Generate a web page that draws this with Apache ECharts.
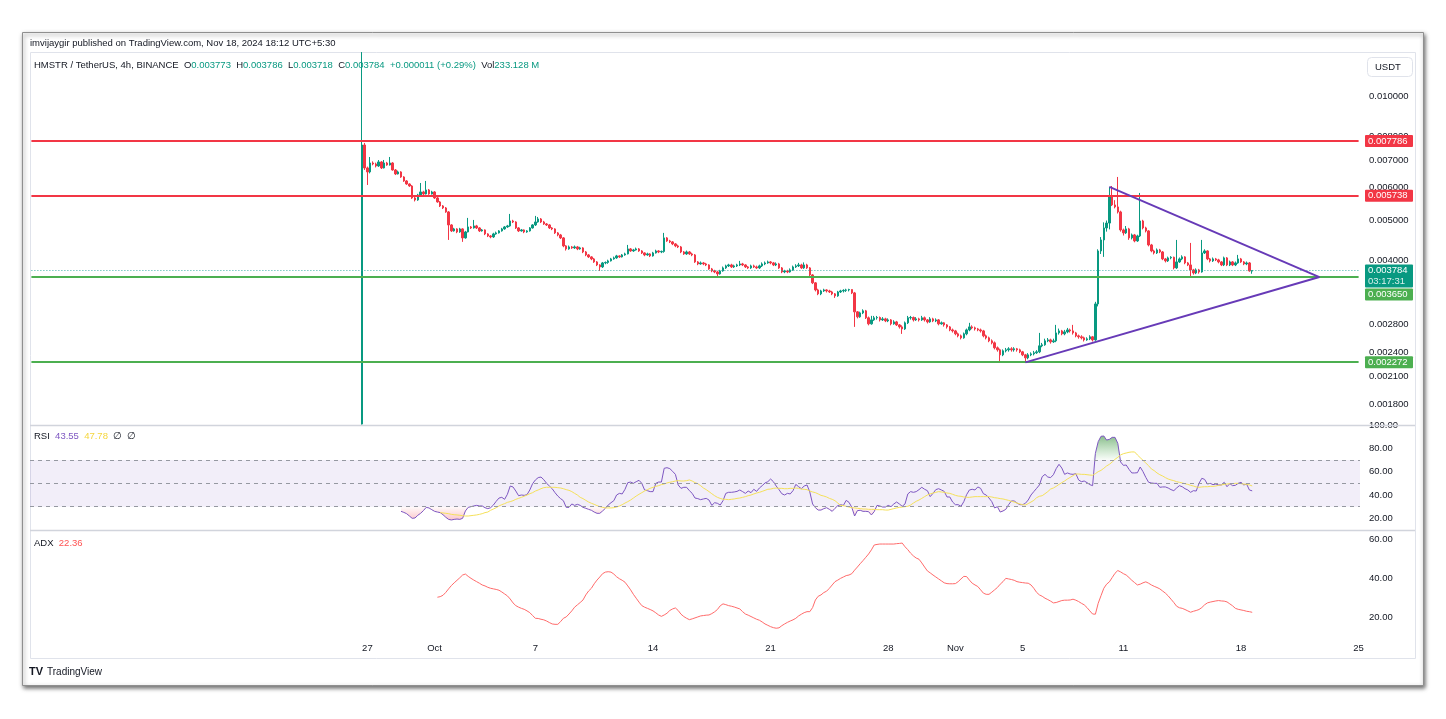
<!DOCTYPE html>
<html>
<head>
<meta charset="utf-8">
<title>HMSTR / TetherUS 4h</title>
<script src="https://cdn.jsdelivr.net/npm/echarts@6/dist/echarts.min.js"></script>
<style>
  html, body { margin: 0; padding: 0; background: #fff; }
  #chart { width: 1446px; height: 719px; }
</style>
</head>
<body>
<div id="chart"></div>
<script>
// 4h candles, prices in millionths of USDT (3784 = 0.003784)
// slots are 4h steps counted from 7 Sep 00:00, first candle is 26 Sep 16:00
// (first candle runs off both ends of the pane, so its open/low/high are the pane edges)
var firstBar = 118;
var open = [
  1610,7613,6700,6553,6888,6850,6774,6927,6700,6888,
  6812,6888,6625,6480,6553,6372,6232,6128,6060,5670,
  5607,5765,5862,5797,5927,5797,5862,5670,5545,5423,
  5363,5245,4879,4719,4772,4692,4772,4539,4692,4825,
  4798,4852,4798,4719,4745,4641,4589,4564,4641,4667,
  4719,4772,4825,4852,4988,4960,4798,4719,4745,4692,
  4719,4798,4879,4960,5044,4960,4906,4879,4798,4772,
  4667,4615,4539,4341,4269,4317,4293,4317,4269,4293,
  4198,4129,4084,4038,3971,3905,3862,3949,3960,3994,
  4038,4061,4106,4084,4129,4152,4269,4221,4245,4269,
  4221,4175,4129,4152,4106,4175,4221,4198,4210,4539,
  4463,4439,4390,4341,4317,4198,4152,4198,4152,4129,
  3971,3927,3949,3927,3905,3819,3777,3756,3715,3777,
  3841,3884,3905,3862,3884,3905,3927,3905,3862,3841,
  3884,3862,3841,3884,3927,3949,3971,3949,3905,3927,
  3841,3756,3777,3756,3798,3862,3884,3905,3841,3905,
  3841,3694,3534,3398,3324,3379,3398,3379,3360,3324,
  3287,3360,3379,3390,3398,3405,3342,3007,2925,2990,
  3024,2909,2813,2876,2909,2915,2876,2892,2860,2876,
  2813,2844,2797,2766,2735,2829,2909,2915,2876,2892,
  2876,2909,2876,2844,2892,2860,2876,2813,2829,2797,
  2766,2720,2705,2661,2631,2602,2661,2720,2766,2751,
  2735,2720,2705,2631,2602,2559,2531,2462,2434,2367,
  2421,2434,2448,2434,2448,2434,2407,2367,2328,2367,
  2380,2394,2407,2489,2503,2559,2573,2545,2559,2675,
  2705,2661,2690,2720,2705,2675,2631,2617,2602,2573,
  2588,2617,2573,3143,4221,4488,4798,4930,5733,5453,
  5393,5245,4745,4667,4772,4539,4615,4463,4589,4988,
  4798,4719,4365,4221,4175,4245,4198,4038,3994,4061,
  4075,3841,3971,4038,4084,3949,3905,3798,3735,3798,
  3756,4175,4221,4038,3994,4038,4016,3971,3905,4061,
  3905,3971,3905,3949,4038,3971,3927,3949,3773
];
var high = [
  12770,7700,6750,7120,6950,6900,7000,6960,7004,6930,
  7122,6920,6660,6600,6580,6400,6260,6150,6090,5700,
  5800,6162,5900,6232,5960,5900,5890,5700,5570,5450,
  5390,5270,4900,4800,4790,4800,4790,4720,5073,4850,
  5016,4880,4820,4770,4760,4660,4610,4670,4700,4740,
  4800,4850,4880,5187,5020,4980,4820,4770,4760,4740,
  4820,4900,5130,5100,5070,4990,4930,4900,4820,4790,
  4690,4640,4560,4360,4350,4340,4350,4340,4320,4310,
  4220,4150,4100,4060,3990,3920,3970,3980,4020,4060,
  4090,4130,4120,4150,4180,4365,4290,4270,4300,4290,
  4240,4190,4180,4170,4200,4250,4240,4230,4667,4560,
  4490,4460,4410,4370,4340,4220,4230,4220,4180,4150,
  3990,3980,3970,3950,3920,3840,3800,3780,3800,3870,
  3910,3930,3930,3910,3930,3994,3950,3920,3880,3910,
  3910,3890,3910,3960,3980,4000,3990,3970,3960,3950,
  3860,3800,3800,3830,3890,3920,3950,3930,3960,3930,
  3860,3710,3550,3420,3400,3420,3410,3400,3380,3340,
  3380,3400,3410,3420,3420,3410,3360,3020,3010,3050,
  3040,2930,2941,2940,2940,2930,2920,2910,2900,2890,
  2870,2860,2810,2790,2850,2940,2940,2930,2920,2910,
  2941,2930,2890,2920,2910,2900,2890,2850,2840,2810,
  2780,2740,2720,2680,2650,2680,2740,2829,2790,2770,
  2750,2740,2720,2650,2620,2580,2550,2480,2450,2440,
  2460,2470,2470,2470,2460,2450,2420,2380,2390,2400,
  2420,2430,2675,2530,2590,2600,2590,2590,2797,2740,
  2720,2720,2750,2740,2797,2690,2650,2640,2620,2610,
  2640,2630,3180,4260,4560,4950,5000,6032,6060,5600,
  6372,5280,4780,4850,4800,4650,4640,4620,5829,5020,
  4830,4740,4390,4250,4280,4270,4220,4060,4090,4100,
  4090,4488,4070,4120,4100,3970,4414,3820,3830,3820,
  4488,4260,4240,4060,4070,4060,4040,3990,4090,4080,
  4000,3990,3980,4129,4060,3990,3980,3970,3786
];
var low = [
  1605,6625,6094,6500,6800,6720,6740,6660,6680,6780,
  6790,6600,6440,6460,6340,6200,6100,6030,5640,5560,
  5580,5740,5760,5780,5770,5780,5640,5520,5390,5330,
  5220,4488,4690,4700,4660,4670,4440,4520,4680,4770,
  4780,4770,4690,4700,4610,4560,4530,4540,4620,4650,
  4700,4750,4800,4830,4930,4770,4690,4700,4660,4670,
  4700,4780,4850,4940,4930,4880,4850,4770,4740,4640,
  4580,4510,4310,4230,4250,4270,4270,4240,4250,4170,
  4100,4060,4010,3950,3880,3777,3840,3920,3930,3980,
  4020,4040,4060,4070,4110,4140,4200,4200,4230,4200,
  4150,4100,4110,4080,4090,4160,4170,4170,4180,4440,
  4410,4360,4310,4290,4170,4130,4130,4130,4100,3950,
  3900,3910,3900,3880,3800,3750,3730,3654,3700,3760,
  3820,3860,3840,3840,3860,3880,3880,3840,3820,3820,
  3840,3820,3820,3860,3900,3930,3920,3880,3880,3820,
  3730,3730,3730,3740,3780,3840,3860,3820,3820,3820,
  3670,3510,3370,3300,3300,3360,3350,3340,3300,3250,
  3270,3340,3350,3360,3370,3320,2766,2900,2910,2970,
  2890,2790,2800,2860,2880,2850,2860,2840,2840,2790,
  2800,2780,2740,2660,2720,2810,2880,2850,2860,2850,
  2860,2850,2820,2830,2840,2840,2790,2800,2770,2740,
  2700,2680,2640,2610,2580,2590,2640,2700,2730,2710,
  2700,2680,2610,2580,2540,2510,2440,2410,2264,2350,
  2400,2410,2410,2410,2410,2390,2350,2277,2310,2350,
  2360,2380,2390,2470,2490,2540,2520,2530,2540,2650,
  2640,2640,2670,2680,2650,2610,2590,2580,2550,2560,
  2570,2550,2560,3100,4150,4084,4700,4760,5420,5350,
  5200,4700,4600,4640,4490,4500,4430,4440,4560,4760,
  4680,4330,4190,4140,4150,4170,4010,3960,3970,4030,
  3810,3820,3950,4010,3920,3880,3634,3700,3710,3720,
  3740,4150,4010,3960,3970,3990,3940,3880,3880,3880,
  3880,3880,3880,3930,3950,3900,3900,3760,3718
];
var close = [
  7613,6700,6553,6888,6850,6774,6927,6700,6888,6812,
  6888,6625,6480,6553,6372,6232,6128,6060,5670,5607,
  5765,5862,5797,5927,5797,5862,5670,5545,5423,5363,
  5245,4879,4719,4772,4692,4772,4539,4692,4825,4798,
  4852,4798,4719,4745,4641,4589,4564,4641,4667,4719,
  4772,4825,4852,4988,4960,4798,4719,4745,4692,4719,
  4798,4879,4960,5044,4960,4906,4879,4798,4772,4667,
  4615,4539,4341,4269,4317,4293,4317,4269,4293,4198,
  4129,4084,4038,3971,3905,3862,3949,3960,3994,4038,
  4061,4106,4084,4129,4152,4269,4221,4245,4269,4221,
  4175,4129,4152,4106,4175,4221,4198,4210,4539,4463,
  4439,4390,4341,4317,4198,4152,4198,4152,4129,3971,
  3927,3949,3927,3905,3819,3777,3756,3715,3777,3841,
  3884,3905,3862,3884,3905,3927,3905,3862,3841,3884,
  3862,3841,3884,3927,3949,3971,3949,3905,3927,3841,
  3756,3777,3756,3798,3862,3884,3905,3841,3905,3841,
  3694,3534,3398,3324,3379,3398,3379,3360,3324,3287,
  3360,3379,3390,3398,3405,3342,3007,2925,2990,3024,
  2909,2813,2876,2909,2915,2876,2892,2860,2876,2813,
  2844,2797,2766,2735,2829,2909,2915,2876,2892,2876,
  2909,2876,2844,2892,2860,2876,2813,2829,2797,2766,
  2720,2705,2661,2631,2602,2661,2720,2766,2751,2735,
  2720,2705,2631,2602,2559,2531,2462,2434,2367,2421,
  2434,2448,2434,2448,2434,2407,2367,2328,2367,2380,
  2394,2407,2489,2503,2559,2573,2545,2559,2675,2705,
  2661,2690,2720,2705,2675,2631,2617,2602,2573,2588,
  2617,2573,3143,4221,4488,4798,4930,5733,5453,5393,
  5245,4745,4667,4772,4539,4615,4463,4589,4988,4798,
  4719,4365,4221,4175,4245,4198,4038,3994,4061,4075,
  3841,3971,4038,4084,3949,3905,3798,3735,3798,3756,
  4175,4221,4038,3994,4038,4016,3971,3905,4061,3905,
  3971,3905,3949,4038,3971,3927,3949,3777,3784
];

// RSI(14) and its 14-bar MA, ADX
var rsiStart = 132;
var rsi = [
  26,25.1,24,22,20,20.3,22.6,24.3,26.6,29.4,
  28.9,27.4,26,25.4,24.9,23.1,20.9,19.1,18.6,19.1,
  19.4,19.1,20,26.3,29.4,30,30.6,31.1,30.6,30.6,
  29.1,28.3,29.1,31.4,34.6,37.4,38,36.3,40.6,47.7,
  46.9,43.4,39.4,40,39.7,40.3,44.3,49.7,52.9,54.9,
  55.4,53.1,50,47.7,45.4,42,39.1,36.9,35.1,29.4,
  29.4,32.3,31.1,32,31.1,29.4,28.6,27.7,26.9,25.4,
  24.3,24.3,26.3,28.6,31.4,33.4,35.1,40,41.4,40.9,
  44.9,50.6,51.1,50,51.4,52.6,50,44.3,43.7,42.9,
  42.9,50,51.1,51.1,62.9,63.4,62.6,60.3,57.7,48.6,
  45.7,46.6,46.6,43.7,41.4,37.4,36.9,36,36.6,37.1,
  35.7,31.1,33.4,32.9,31.4,35.1,41.4,42.3,42.3,42.6,
  43.1,44.3,42.9,41.4,43.4,42,44.9,43.1,46,48,
  50.3,51.4,53.7,51.4,47.7,44.6,41.1,40,41.4,40.9,
  43.7,49.1,47.1,45.4,47.7,48.6,42.6,32.3,29.1,27.1,
  27.1,28.3,29.1,27.7,26,28.6,30.9,31.7,31.1,35.4,
  33.7,29.4,22,26.6,26.9,26,26,25.7,22.9,25.7,
  31.1,30.6,29.7,29.7,31.1,30,32.3,34,32.3,30.3,
  32.3,40.9,42.9,42.3,42.9,44.6,46.6,44.9,43.7,38.6,
  41.4,44.6,45.4,44.3,43.1,38.3,38.3,34,31.7,31.7,
  30.3,34.3,40.3,44.3,44.9,44.3,46.9,45.7,41.1,40,
  37.4,34.3,28.9,30,25.4,26.3,27.7,31.7,34.9,34.9,
  33.1,31.7,31.7,32.9,35.7,40,42.9,45.7,48.6,55.7,
  57.7,55.4,54.9,57.4,62.6,66.3,63.1,57.7,58.9,58,
  57.7,58.3,52.9,51.4,52,50.6,48.9,48,75.7,85.7,
  90.3,90.6,87.1,87.7,89.4,89.4,84.3,68.3,65.4,65.7,
  62,58.9,58.9,59.1,64,60,55.1,50.9,50.3,50,
  50,46.6,46.9,46.9,46,44.6,43.7,46,48,47.1,
  45.4,44.3,42.3,43.7,43.4,50,54.3,53.4,49.4,50,
  48.9,49.4,48.6,48.6,50.9,47.1,49.7,48,48.3,50,
  50.9,48.6,49.4,44.3,43.55
];
var rsiMaStart = 146;
var rsiMa = [
  24.9,24.6,24.3,24,23.4,23.1,22.9,22.6,22.3,22,
  22,22.3,22.6,22.9,23.4,24,24.9,25.4,26.9,28,
  29.1,30.6,31.7,32.6,33.7,34.3,35.1,36.3,37.1,38,
  38.9,40,41.1,42,43.4,44.3,45.4,46.3,46.6,46.6,
  46.6,46.6,46.3,46,45.4,44.6,44,42.9,41.4,40,
  38,36.9,35.4,34,32.9,32,30.9,30,29.4,28.9,
  28.9,28.9,29.1,29.7,30.6,31.7,33.1,34.3,35.7,37.4,
  39.1,40.6,42,43.4,44.6,45.7,46.6,47.4,48,48.9,
  49.4,50.3,50.9,51.4,52,52.3,52,52,52.3,52.9,
  52,50.6,49.7,48,46,44.6,42.9,41.1,39.4,38,
  37.1,36.3,36.3,36,36.3,36.6,37.1,37.4,38,38.6,
  39.4,40,40.9,41.7,42.3,43.1,44,44.9,45.1,45.7,
  46,45.7,45.7,45.4,45.4,45.7,45.7,46,45.7,45.1,
  44.9,44.6,43.4,42.6,42,40.9,39.7,39.1,38.3,37.1,
  36.3,35.1,33.1,31.1,30.9,30.3,29.7,29.1,28.9,28.6,
  28.3,28,28,27.7,27.7,27.7,27.4,27.4,27.4,27.1,
  27.1,27.7,28.3,28.9,29.4,29.7,30,30.3,31.4,33.1,
  34.6,35.7,37.1,38.6,40,40.9,41.7,42.3,42.9,42.6,
  42.3,41.7,41.4,40.6,39.7,39.1,38.9,38.3,38,38,
  38.3,38.6,38.6,38.6,38.6,38.6,38.6,38.3,37.7,37.4,
  36.9,36.6,36,35.4,34.6,34,33.1,32.3,31.7,31.4,
  32.6,34,35.4,37.7,38.9,39.4,41.1,42.9,45.1,46,
  47.4,49.1,50.6,52,53.7,55.1,56.6,58,58,57.7,
  57.7,57.4,57.1,56.9,58.3,60,61.1,62.9,64.9,66.3,
  68.3,70.6,72.3,74.3,75.4,76,76.6,76.9,76.9,74.3,
  72,69.7,67.4,65.1,62.3,60.9,58.9,57.4,56.3,54.9,
  53.7,52.9,52.3,51.4,50.9,50.3,49.7,49.1,48.3,47.7,
  46.9,46.6,46.9,47.1,47.1,47.4,47.4,47.7,48.3,48.6,
  49.1,49.4,49.7,49.7,50,50,49.7,49.4,49.1,48.6,
  47.78
];
var adxStart = 145;
var adx = [
  30.1,30.4,31.1,32.6,34.4,36.1,37.5,38.8,40.1,41.5,
  42,40.8,39.8,38.9,38.1,37.3,36.4,35.9,35.2,34.7,
  34.4,34.1,33.7,32.8,31.8,30.8,29.2,27.2,25.8,25,
  24.4,23.9,23.1,22.2,20.7,19.3,19.2,18.8,18.5,17.9,
  17.1,16.4,16.2,16.2,17.6,19.3,20,21.5,23.1,25,
  26.2,27.4,28.7,31.3,33.3,34.7,37,38.9,40.5,42.2,
  43,43.2,43,42,40.6,39.6,38.8,37.8,35.9,33.9,
  31.6,29.6,27.6,25.8,25,24.4,23.8,23.1,22.1,21,
  20.3,21,21.9,23.3,24.1,24.6,23.3,21.4,20.2,19.3,
  18.6,19,19.5,20,20.5,20.7,20.9,21,21.7,22.6,
  23.8,25.7,26.7,26.3,25.8,25.5,25.1,24.6,24.1,22.7,
  21.5,20.9,20.2,19.5,18.8,18.3,17.4,16.4,15.7,15,
  14.5,14.2,14.4,15.5,16.4,17.2,17.9,18.5,19.3,20.5,
  21.4,22.2,22.7,22.7,24.8,28.7,30.6,31.3,32.5,33.2,
  34.7,36.4,38.1,38.9,39.8,40.5,41.2,41.5,42.2,44,
  45.6,47.3,48.9,50.6,52.3,54.4,56.9,57.2,57.4,57.4,
  57.4,57.4,57.4,57.4,57.6,57.7,57.9,56,54.5,52.7,
  51.3,50.2,49.6,47.7,45.6,43.6,42.6,41.5,40.5,39.5,
  38.5,37.5,37.1,37,37,37.1,38.1,39.5,40.8,40.7,
  38.9,37.3,36.4,35.6,33.9,32.2,31.6,31.6,32.7,33.9,
  35.1,36.8,38.1,39.8,39.5,39.2,38.8,38.1,37.8,37.6,
  37.4,37.3,36.4,34.7,32.6,31.3,30.6,29.6,28.9,28.1,
  27.2,27.4,27.9,28.4,28.6,28.6,28.7,29.1,28.6,27.9,
  27,26.2,24.8,23.1,21.5,21.4,27,30.9,34.7,36.8,
  38,40.2,42.4,43.8,43.1,42.2,41.5,40.2,38.8,37.6,
  36.4,36.8,37.5,38,37.3,36.4,35.7,35.1,34.4,33.3,
  32.2,30.8,29.1,27.4,25.5,24.7,24.4,23.8,23.1,22.4,
  22.9,23.3,23.8,24.8,26.2,27.2,27.6,27.9,28.2,28.4,
  28.2,28.1,27.7,26.7,25.7,24.4,23.9,23.6,23.3,22.9,
  22.7,22.36
];

// drawn levels and the triangle ([slot, price])
var redLevels = [0.007786, 0.005738];
var greenLevels = [0.003650, 0.002272];
var lastPrice = 0.003784;
var triUpper = [[385, 0.00603], [460, 0.00365]];
var triLower = [[355, 0.00227], [460, 0.00365]];

// axis ticks
var priceTicks = [0.010, 0.008, 0.007, 0.006, 0.005, 0.004, 0.0028, 0.0024, 0.0021, 0.0018];
var rsiTicks = [20, 40, 60, 80, 100];
var adxTicks = [20, 40, 60];
var dayTicks = ['2024-09-27', '2024-10-01', '2024-10-07', '2024-10-14', '2024-10-21', '2024-10-28',
  '2024-11-01', '2024-11-05', '2024-11-11', '2024-11-18', '2024-11-25'];
var dayTickText = ['27', 'Oct', '7', '14', '21', '28', 'Nov', '5', '11', '18', '25'];

var FONT = '"Liberation Sans", Arial, sans-serif';
var UP = '#089981', DOWN = '#f23645';

var slots = [];
var t0 = Date.UTC(2024, 8, 7);
for (var i = 0; i < 475; i++) {
  var s = new Date(t0 + i * 4 * 3600 * 1000).toISOString();
  slots.push(s.slice(0, 10) + ' ' + s.slice(11, 16));
}
var lastSlot = slots.length - 1;

var candles = open.map(function (o, k) {
  return [firstBar + k, o / 1e6, close[k] / 1e6, low[k] / 1e6, high[k] / 1e6];
});
function pts(arr, start, fn) {
  return arr.map(function (v, k) { return [start + k, fn ? fn(v) : v]; });
}

var chart = echarts.init(document.getElementById('chart'));

function xAx(g) {
  return {
    type: 'category', gridIndex: g, data: slots, boundaryGap: true,
    axisLine: { show: false }, axisTick: { show: false }, splitLine: { show: false },
    axisLabel: {
      show: g === 2, color: '#131722', fontSize: 9.5, fontFamily: FONT, margin: 6,
      interval: function (idx, val) { return val.slice(11) === '00:00' && dayTicks.indexOf(val.slice(0, 10)) >= 0; },
      formatter: function (val) { var k = dayTicks.indexOf(val.slice(0, 10)); return k >= 0 ? dayTickText[k] : ''; }
    }
  };
}
function yAx(g, extra) {
  var a = {
    gridIndex: g, position: 'right',
    axisLine: { show: false }, axisTick: { show: false }, splitLine: { show: false },
    axisLabel: { color: '#131722', fontSize: 9.5, fontFamily: FONT, margin: 9 }
  };
  for (var k in extra) {
    if (k === 'axisLabel') { for (var j in extra[k]) a.axisLabel[j] = extra[k][j]; }
    else a[k] = extra[k];
  }
  return a;
}

// horizontal levels as coord pairs across the whole pane (yAxis-only lines misplace on a log axis)
function hLine(v, style) {
  return [{ coord: [0, v], lineStyle: style }, { coord: [lastSlot, v] }];
}
var levelLines = [];
redLevels.forEach(function (v) { levelLines.push(hLine(v, { color: '#f23645', width: 2, type: 'solid' })); });
greenLevels.forEach(function (v) { levelLines.push(hLine(v, { color: '#4caf50', width: 2, type: 'solid' })); });
levelLines.push(hLine(lastPrice, { color: '#26a69a', width: 1, type: [1, 2], opacity: 0.9 }));
[triUpper, triLower].forEach(function (seg) {
  levelLines.push([
    { coord: seg[0], lineStyle: { color: '#673ab7', width: 2, type: 'solid' } },
    { coord: seg[1] }
  ]);
});

var frame = [
  { type: 'rect', z: -10, shape: { x: 22.5, y: 32.5, width: 1401, height: 653 },
    style: { fill: '#fff', stroke: '#8f8f8f', lineWidth: 1, shadowBlur: 4, shadowOffsetX: 1, shadowOffsetY: 2, shadowColor: 'rgba(0,0,0,0.55)' } },
  { type: 'rect', z: -9, shape: { x: 30.5, y: 52.5, width: 1385, height: 606 },
    style: { fill: 'none', stroke: '#e0e3eb', lineWidth: 1 } },
  { type: 'line', z: 50, shape: { x1: 30, y1: 425.5, x2: 1415, y2: 425.5 }, style: { stroke: '#d1d4dc', lineWidth: 1.5 } },
  { type: 'line', z: 50, shape: { x1: 30, y1: 530.5, x2: 1415, y2: 530.5 }, style: { stroke: '#d1d4dc', lineWidth: 1.5 } },
  { type: 'rect', z: 50, shape: { x: 1367.5, y: 57.5, width: 45, height: 19, r: 4 },
    style: { fill: '#fff', stroke: '#e0e3eb', lineWidth: 1 } },
  { type: 'text', z: 51, x: 1375, y: 67, style: { text: 'USDT', fill: '#131722', fontSize: 9.5, fontFamily: FONT, verticalAlign: 'middle' } },
  { type: 'text', z: 51, x: 29, y: 672, style: { text: 'TV', fill: '#131722', fontSize: 11, fontWeight: 'bold', fontFamily: FONT, verticalAlign: 'middle' } },
  { type: 'text', z: 51, x: 47, y: 672, style: { text: 'TradingView', fill: '#131722', fontSize: 10, fontFamily: FONT, verticalAlign: 'middle' } }
];

var option = {
  animation: false,
  backgroundColor: '#ffffff',
  textStyle: { fontFamily: FONT },
  title: [
    { text: 'imvijaygir published on TradingView.com, Nov 18, 2024 18:12 UTC+5:30', left: 30, top: 38, padding: 0,
      textStyle: { fontSize: 9.5, fontWeight: 'normal', color: '#131722', fontFamily: FONT } },
    { text: '{d|HMSTR / TetherUS, 4h, BINANCE}  {d|O}{u|0.003773}  {d|H}{u|0.003786}  {d|L}{u|0.003718}  {d|C}{u|0.003784}  {u|+0.000011 (+0.29%)}  {d|Vol}{u|233.128 M}',
      left: 34, top: 60, padding: 0,
      textStyle: { fontSize: 9.5, fontWeight: 'normal', rich: {
        d: { color: '#131722', fontSize: 9.5, fontFamily: FONT },
        u: { color: UP, fontSize: 9.5, fontFamily: FONT } } } },
    { text: '{d|RSI}  {p|43.55}  {y|47.78}  {d|\u2205}  {d|\u2205}', left: 34, top: 431, padding: 0,
      textStyle: { fontSize: 9.5, fontWeight: 'normal', rich: {
        d: { color: '#131722', fontSize: 9.5, fontFamily: FONT },
        p: { color: '#7e57c2', fontSize: 9.5, fontFamily: FONT },
        y: { color: '#f5d63d', fontSize: 9.5, fontFamily: FONT } } } },
    { text: '{d|ADX}  {r|22.36}', left: 34, top: 538, padding: 0,
      textStyle: { fontSize: 9.5, fontWeight: 'normal', rich: {
        d: { color: '#131722', fontSize: 9.5, fontFamily: FONT },
        r: { color: '#ff5252', fontSize: 9.5, fontFamily: FONT } } } }
  ],
  grid: [
    { left: 30, top: 52, width: 1330, height: 373 },
    { left: 30, top: 425, width: 1330, height: 105 },
    { left: 30, top: 530, width: 1330, height: 107 }
  ],
  xAxis: [xAx(0), xAx(1), xAx(2)],
  yAxis: [
    yAx(0, { type: 'log', min: 0.001602, max: 0.012775,
      axisLabel: { customValues: priceTicks, formatter: function (v) { return (+v).toFixed(6); } } }),
    yAx(1, { type: 'value', min: 10, max: 100,
      axisLabel: { customValues: rsiTicks, formatter: function (v) { return (+v).toFixed(2); } } }),
    yAx(2, { type: 'value', min: 9.7, max: 64.6,
      axisLabel: { customValues: adxTicks, formatter: function (v) { return (+v).toFixed(2); } } })
  ],
  series: [
    {
      type: 'candlestick', xAxisIndex: 0, yAxisIndex: 0, data: candles, encode: { x: 0, y: [1, 2, 3, 4] },
      barWidth: 2, clip: true,
      itemStyle: { color: UP, color0: DOWN, borderColor: UP, borderColor0: DOWN, borderWidth: 1 },
      markLine: { silent: true, symbol: ['none', 'none'], label: { show: false }, animation: false, data: levelLines }
    },
    {
      name: 'overbought', type: 'line', xAxisIndex: 1, yAxisIndex: 1, symbol: 'none', silent: true, z: 1,
      data: pts(rsi, rsiStart, function (v) { return Math.max(v, 70); }),
      lineStyle: { width: 0 },
      areaStyle: { origin: 70, color: new echarts.graphic.LinearGradient(0, 0, 0, 1, [
        { offset: 0, color: 'rgba(56,142,60,0.85)' }, { offset: 1, color: 'rgba(76,175,80,0.05)' }]) }
    },
    {
      name: 'oversold', type: 'line', xAxisIndex: 1, yAxisIndex: 1, symbol: 'none', silent: true, z: 1,
      data: pts(rsi, rsiStart, function (v) { return Math.min(v, 30); }),
      lineStyle: { width: 0 },
      areaStyle: { origin: 30, color: new echarts.graphic.LinearGradient(0, 0, 0, 1, [
        { offset: 0, color: 'rgba(242,54,69,0.03)' }, { offset: 1, color: 'rgba(242,54,69,0.4)' }]) }
    },
    {
      name: 'RSI', type: 'line', xAxisIndex: 1, yAxisIndex: 1, symbol: 'none', z: 3,
      data: pts(rsi, rsiStart), lineStyle: { color: '#7e57c2', width: 1 },
      markArea: { silent: true, itemStyle: { color: 'rgba(126,87,194,0.1)' }, data: [[{ yAxis: 30 }, { yAxis: 70 }]] },
      markLine: { silent: true, symbol: ['none', 'none'], label: { show: false },
        lineStyle: { color: '#9598a1', width: 1, type: [4, 4] },
        data: [{ yAxis: 70 }, { yAxis: 50 }, { yAxis: 30 }] }
    },
    {
      name: 'RSI MA', type: 'line', xAxisIndex: 1, yAxisIndex: 1, symbol: 'none', z: 3,
      data: pts(rsiMa, rsiMaStart), lineStyle: { color: '#f5e15a', width: 1 }
    },
    {
      name: 'ADX', type: 'line', xAxisIndex: 2, yAxisIndex: 2, symbol: 'none',
      data: pts(adx, adxStart), lineStyle: { color: '#ff6b6b', width: 1 }
    }
  ],
  graphic: frame
};

chart.setOption(option);

// price tags on the right scale, pushed down when they collide (like TradingView)
var tags = [
  { v: redLevels[0], color: '#f23645', lines: ['0.007786'] },
  { v: redLevels[1], color: '#f23645', lines: ['0.005738'] },
  { v: lastPrice, color: UP, lines: ['0.003784', '03:17:31'] },
  { v: greenLevels[0], color: '#4caf50', lines: ['0.003650'] },
  { v: greenLevels[1], color: '#4caf50', lines: ['0.002272'] }
];
var tagEls = [];
var prevBottom = -1000;
tags.forEach(function (t) { t.py = chart.convertToPixel({ yAxisIndex: 0 }, t.v); });
tags.sort(function (a, b) { return a.py - b.py; });
tags.forEach(function (t) {
  var h = 11 * t.lines.length + 1;
  var top = Math.max(t.py - 6, prevBottom + 1);
  prevBottom = top + h;
  tagEls.push({ type: 'rect', z: 100, shape: { x: 1365, y: top, width: 48, height: h, r: 1 }, style: { fill: t.color } });
  t.lines.forEach(function (txt, j) {
    tagEls.push({ type: 'text', z: 101, x: 1368, y: top + 6 + j * 11,
      style: { text: txt, fill: '#fff', fontSize: 9.5, fontFamily: FONT, verticalAlign: 'middle', opacity: j ? 0.85 : 1 } });
  });
});
chart.setOption({ graphic: frame.concat(tagEls) });
</script>
</body>
</html>
